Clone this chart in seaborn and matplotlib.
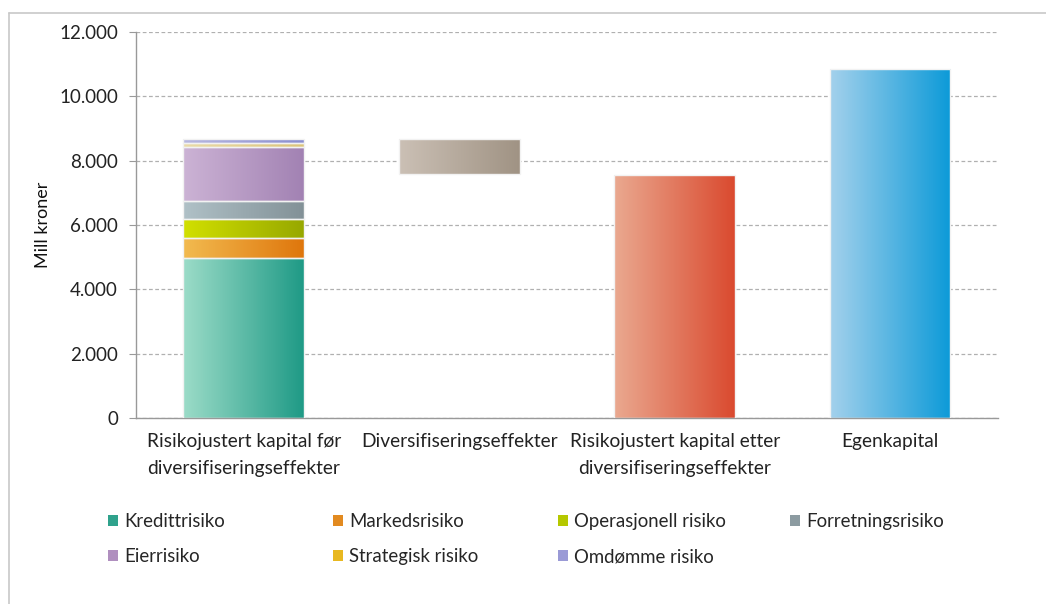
import numpy as np
import pandas as pd
import seaborn as sns
import matplotlib.pyplot as plt
from matplotlib.colors import LinearSegmentedColormap
from matplotlib.patches import Patch

sns.set_style('white')
plt.rcParams['font.family'] = ['Lato', 'DejaVu Sans']

# kategorier på x-aksen
kategorier = ['Risikojustert kapital før\ndiversifiseringseffekter',
              'Diversifiseringseffekter',
              'Risikojustert kapital etter\ndiversifiseringseffekter',
              'Egenkapital']

# risikokomponenter i første stolpe (mill kroner)
komponenter = ['Kredittrisiko', 'Markedsrisiko', 'Operasjonell risiko', 'Forretningsrisiko',
               'Eierrisiko', 'Strategisk risiko', 'Omdømme risiko']
komponent_verdier = [4960, 620, 600, 560, 1670, 125, 135]

# øvrige stolper: (bunn, topp)
diversifisering = (7600, 8670)
etter_div = 7550
egenkapital = 10860

# gradientfarger (venstre, høyre)
farger = {
    'Kredittrisiko': ('#9cdcc8', '#1f9a86'),
    'Markedsrisiko': ('#f2bb50', '#df760c'),
    'Operasjonell risiko': ('#d2e000', '#97a800'),
    'Forretningsrisiko': ('#b0c1c7', '#829197'),
    'Eierrisiko': ('#ccb3d5', '#a282b3'),
    'Strategisk risiko': ('#eadba8', '#dcc47a'),
    'Omdømme risiko': ('#b8b8e0', '#8a8ed0'),
    'Diversifiseringseffekter': ('#cbc0b5', '#a09384'),
    'Etter': ('#eaa990', '#da4a2f'),
    'Egenkapital': ('#a4d1ec', '#0c9ad8'),
}
legend_farger = {'Kredittrisiko': '#2fa28c', 'Markedsrisiko': '#e28a20',
                 'Operasjonell risiko': '#b5c800', 'Forretningsrisiko': '#8c9ba1',
                 'Eierrisiko': '#b08fbf', 'Strategisk risiko': '#e8b820',
                 'Omdømme risiko': '#9a9ad6'}

# segmenter: kategori, navn, bunn, høyde
rader = []
bunn = 0
for navn, v in zip(komponenter, komponent_verdier):
    rader.append((kategorier[0], navn, bunn, v))
    bunn += v
rader.append((kategorier[1], 'Diversifiseringseffekter', diversifisering[0],
              diversifisering[1] - diversifisering[0]))
rader.append((kategorier[2], 'Etter', 0, etter_div))
rader.append((kategorier[3], 'Egenkapital', 0, egenkapital))
df = pd.DataFrame(rader, columns=['kategori', 'segment', 'bunn', 'hoyde'])

fig = plt.figure(figsize=(10.46, 6.04), dpi=100)
ax = fig.add_axes([0.130, 0.308, 0.824, 0.639])

for _, r in df.iterrows():
    sns.barplot(x=[r['kategori']], y=[r['hoyde']], order=kategorier, width=0.56,
                color=farger[r['segment']][1], ax=ax, zorder=3)
    p = ax.patches[-1]
    p.set_y(r['bunn'])
    p.set_height(r['hoyde'])
    x0, w = p.get_x(), p.get_width()
    cmap = LinearSegmentedColormap.from_list('g', list(farger[r['segment']]))
    im = ax.imshow(np.linspace(0, 1, 256).reshape(1, -1), cmap=cmap, aspect='auto',
                   extent=[x0, x0 + w, r['bunn'], r['bunn'] + r['hoyde']], zorder=2.5)
    im.set_clip_path(p)
    p.set_facecolor('none')
    p.set_edgecolor('#f2f2f2')
    p.set_linewidth(1.0)

ax.set_aspect('auto')
ax.set_xlim(-0.5, 3.5)
ax.set_ylim(0, 12000)
ax.set_yticks(np.arange(0, 12001, 2000))
ax.set_yticklabels([f'{int(v):,}'.replace(',', '.') for v in np.arange(0, 12001, 2000)],
                   fontsize=13.5, color='#222222')
ax.set_xticks(range(4))
ax.set_xticklabels(kategorier, fontsize=13.8, color='#222222')
for lbl in ax.get_xticklabels():
    lbl.set_linespacing(1.7)
ax.set_xticks(np.arange(-0.5, 4, 1), minor=True)
ax.tick_params(axis='x', which='major', length=0, pad=11)
ax.tick_params(axis='x', which='minor', length=6, color='#999999', direction='out')
ax.tick_params(axis='y', length=5, color='#999999', direction='out', left=True, pad=8)
ax.set_xlabel('')
ax.set_ylabel('Mill kroner', fontsize=13, labelpad=6, color='#111111')

ax.yaxis.grid(True, linestyle=(0, (3, 2)), color='#b0b0b0', linewidth=0.9)
ax.set_axisbelow(True)
for s in ['top', 'right']:
    ax.spines[s].set_visible(False)
for s in ['left', 'bottom']:
    ax.spines[s].set_color('#999999')
    ax.spines[s].set_linewidth(1.0)

# ramme rundt figuren (venstre og topp)
fig.add_artist(plt.Line2D([0.0086, 0.0086], [0.0, 0.978], color='#c8c8c8', lw=1.2))
fig.add_artist(plt.Line2D([0.0086, 1.0], [0.978, 0.978], color='#c8c8c8', lw=1.2))

# legende i fire kolonner
kolonner = [['Kredittrisiko', 'Eierrisiko'], ['Markedsrisiko', 'Strategisk risiko'],
            ['Operasjonell risiko', 'Omdømme risiko'], ['Forretningsrisiko']]
kol_x = [0.103, 0.318, 0.533, 0.755]
for xs, navnene in zip(kol_x, kolonner):
    handles = [Patch(facecolor=legend_farger[n], edgecolor='none') for n in navnene]
    fig.legend(handles, navnene, loc='upper left', bbox_to_anchor=(xs, 0.150),
               bbox_transform=fig.transFigure, frameon=False, fontsize=13.4,
               handlelength=0.55, handleheight=0.55, handletextpad=0.35,
               labelspacing=0.95, borderaxespad=0, borderpad=0)

fig.savefig('out.png', dpi=100)
